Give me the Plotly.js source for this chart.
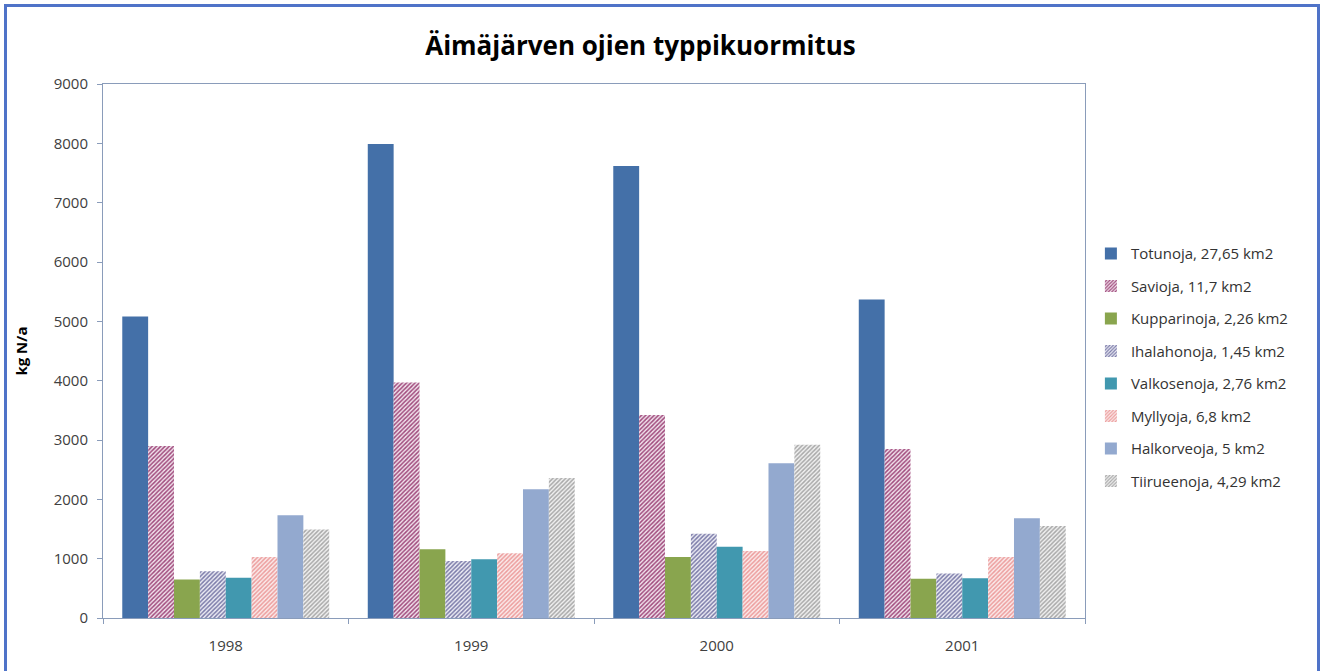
<!DOCTYPE html>
<html>
<head>
<meta charset="utf-8">
<script src="https://cdn.plot.ly/plotly-3.0.1.min.js"></script>
<style>
  html, body { margin: 0; padding: 0; background: #fff; }
  #wrap { position: relative; width: 1326px; height: 671px; overflow: hidden; }
  #chart { position: absolute; left: 0; top: 0; width: 1326px; height: 671px; }
  #frame { position: absolute; left: 4px; top: 4px; width: 1316px; height: 680px;
           border: 3px solid #4f73c8; box-sizing: border-box; pointer-events: none; }
</style>
</head>
<body>
<div id="wrap">
  <div id="chart"></div>
  <div id="frame"></div>
</div>
<script>
const years = ['1998', '1999', '2000', '2001'];

const seriesNames = [
  'Totunoja, 27,65 km2',
  'Savioja, 11,7 km2',
  'Kupparinoja, 2,26 km2',
  'Ihalahonoja, 1,45 km2',
  'Valkosenoja, 2,76 km2',
  'Myllyoja, 6,8 km2',
  'Halkorveoja, 5 km2',
  'Tiirueenoja, 4,29 km2'
];

const totunoja    = [5080, 7990, 7620, 5370];
const savioja     = [2900, 3970, 3420, 2850];
const kupparinoja = [650, 1160, 1030, 660];
const ihalahonoja = [790, 960, 1420, 750];
const valkosenoja = [680, 990, 1200, 670];
const myllyoja    = [1030, 1090, 1130, 1030];
const halkorveoja = [1730, 2170, 2610, 1680];
const tiirueenoja = [1490, 2360, 2920, 1550];

const seriesValues = [totunoja, savioja, kupparinoja, ihalahonoja,
                      valkosenoja, myllyoja, halkorveoja, tiirueenoja];

const styles = [
  {color: '#4470a8'},
  {color: '#ffffff', pattern: {shape: '/', fgcolor: '#a04a7c', bgcolor: '#f2e4ee', size: 3, solidity: 0.5}},
  {color: '#89a54e'},
  {color: '#ffffff', pattern: {shape: '/', fgcolor: '#7a7aa8', bgcolor: '#eeeef6', size: 3, solidity: 0.5}},
  {color: '#4198af'},
  {color: '#ffffff', pattern: {shape: '/', fgcolor: '#ec9c9c', bgcolor: '#fbecec', size: 3, solidity: 0.5}},
  {color: '#93a9cf'},
  {color: '#ffffff', pattern: {shape: '/', fgcolor: '#a8a8a8', bgcolor: '#f2f2f2', size: 3, solidity: 0.5}}
];

const traces = seriesNames.map((name, i) => {
  const m = {color: styles[i].color, line: {width: 0}};
  if (styles[i].pattern) m.pattern = styles[i].pattern;
  return {
    type: 'bar',
    name: name,
    x: years,
    y: seriesValues[i],
    marker: m,
    legendgroup: 'g' + i,
    hoverinfo: 'x+y+name'
  };
});

const layout = {
  width: 1326,
  height: 671,
  paper_bgcolor: '#ffffff',
  plot_bgcolor: '#ffffff',
  margin: {l: 103, r: 241, t: 84, b: 53},
  barmode: 'group',
  bargap: 0.157,
  bargroupgap: 0,
  font: {family: 'Open Sans, DejaVu Sans, sans-serif', color: '#404040', size: 15},
  title: {
    text: '<b>Äimäjärven ojien typpikuormitus</b>',
    font: {family: 'Open Sans, sans-serif', size: 26, color: '#000000'},
    x: 0.483, xanchor: 'center', xref: 'container',
    y: 0.932, yanchor: 'middle', yref: 'container'
  },
  xaxis: {
    type: 'category',
    showline: true, linecolor: '#8a9cba', linewidth: 1, mirror: true,
    showgrid: false, zeroline: false,
    ticks: 'outside', ticklen: 5, tickcolor: '#8a9cba', tickson: 'boundaries',
    tickfont: {size: 15, color: '#404040'},
    ticklabelstandoff: 14
  },
  yaxis: {
    range: [0, 9000],
    dtick: 1000,
    showline: true, linecolor: '#8a9cba', linewidth: 1, mirror: true,
    showgrid: false, zeroline: false,
    ticks: 'outside', ticklen: 5, tickcolor: '#8a9cba',
    tickfont: {size: 15, color: '#404040'},
    ticklabelstandoff: 6,
    title: {text: '<b>kg N/a</b>', font: {size: 15, color: '#000000'}, standoff: 22}
  },
  legend: {
    x: 1.006, xanchor: 'left', xref: 'paper',
    y: 0.713, yanchor: 'top',
    traceorder: 'grouped',
    tracegroupgap: 10,
    font: {size: 15, color: '#333333'},
    itemwidth: 30,
    bgcolor: 'rgba(0,0,0,0)'
  },
  showlegend: true
};

Plotly.newPlot('chart', traces, layout, {displayModeBar: false, staticPlot: true});
</script>
</body>
</html>
